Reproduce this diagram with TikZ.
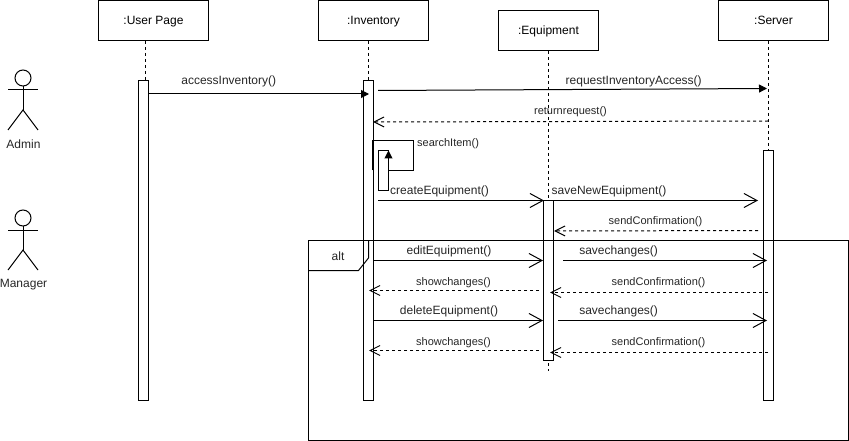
\documentclass[tikz,border=0pt]{standalone}
\usepackage{fontspec}
\setmainfont{Liberation Sans}
\usetikzlibrary{arrows.meta}

\tikzset{
	objbox/.style={draw, fill=white, line width=1pt, inner sep=0pt, text height=9pt, text depth=0pt, font=\fontsize{12}{14}\selectfont},
	actbar/.style={draw, fill=white, line width=1pt, inner sep=0pt, minimum width=10pt},
	lifeline/.style={line width=1pt, dash pattern=on 3pt off 3pt},
	callmsg/.style={line width=1pt, -{Straight Barb[length=13pt, width=14pt, line width=1pt]}},
	filledmsg/.style={line width=1pt, -{Triangle[length=8pt, width=8pt]}},
	replymsg/.style={line width=1pt, dash pattern=on 3pt off 3pt, -{Straight Barb[length=10pt, width=10pt, line width=1pt]}},
	biglabel/.style={inner sep=0pt, yshift=-1.5pt, text=black!85, font=\fontsize{12}{14}\selectfont},
	smalllabel/.style={inner sep=0pt, yshift=-1.5pt, text=black!85, font=\fontsize{11}{13}\selectfont},
}

\begin{document}
\begin{tikzpicture}[x=1pt, y=-1pt]
	\useasboundingbox (0,0) rectangle (849,441);

	% objects
	\node[objbox, minimum width=110pt, minimum height=40pt] (userbox) at (153.5,20.5) {:User Page};
	\node[objbox, minimum width=110pt, minimum height=40pt] (invbox) at (373.5,20.5) {:Inventory};
	\node[objbox, minimum width=100pt, minimum height=40pt] (equipbox) at (548.5,30.5) {:Equipment};
	\node[objbox, minimum width=110pt, minimum height=40pt] (servbox) at (773.5,20.5) {:Server};

	% lifelines
	\coordinate (usertop) at (145,41);
	\coordinate (userend) at (145,80);
	\coordinate (invtop) at (368.5,41);
	\coordinate (invend) at (368.5,80);
	\coordinate (equiptop) at (548.5,51);
	\coordinate (equipend) at (548.5,371);
	\coordinate (servtop) at (768.5,41);
	\coordinate (servend) at (768.5,150);
	\draw[lifeline] (usertop) -- (userend);
	\draw[lifeline] (invtop) -- (invend);
	\draw[lifeline] (equiptop) -- (equipend);
	\draw[lifeline] (servtop) -- (servend);

	% activation bars
	\node[actbar, minimum height=320pt] (userbar) at (143.5,240.5) {};
	\node[actbar, minimum height=320pt] (invbar) at (368.5,240.5) {};
	\node[actbar, minimum height=160pt] (equipbar) at (548.5,280.5) {};
	\node[actbar, minimum height=250pt] (servbar) at (768.5,275.5) {};
	\node[actbar, minimum height=40pt] (selfbar) at (383.5,170.5) {};

	% actors
	\foreach \name/\ypos/\who in {admin/0/Admin, manager/140/Manager}{
		\draw[line width=1pt] (23,78+\ypos) circle(8);
		\draw[line width=1pt] (23,86+\ypos) -- (23,110+\ypos);
		\draw[line width=1pt] (8,90+\ypos) -- (38,90+\ypos);
		\draw[line width=1pt] (8,130+\ypos) -- (23,110+\ypos) -- (38,130+\ypos);
		\node[biglabel] (\name) at (23.5,143+\ypos) {\who};
	}

	% alt frame
	\coordinate (altA) at (308.5,240.5);
	\coordinate (altB) at (848.5,440.5);
	\coordinate (tabA) at (308.5,270.5);
	\coordinate (tabB) at (358.5,270.5);
	\coordinate (tabC) at (368.5,258);
	\coordinate (tabD) at (368.5,240.5);
	\draw[line width=1pt] (altA) rectangle (altB);
	\draw[line width=1pt] (tabA) -- (tabB) -- (tabC) -- (tabD);
	\node[biglabel] (altlabel) at (338,255) {alt};

	% messages
	\coordinate (accessA) at (149,94);
	\coordinate (accessB) at (369,94);
	\draw[filledmsg] (accessA) -- (accessB);
	\node[biglabel] (accesslabel) at (228.7,80) {accessInventory()};

	\coordinate (requestA) at (378,90.5);
	\coordinate (requestB) at (767,88.5);
	\draw[filledmsg] (requestA) -- (requestB);
	\node[biglabel] (requestlabel) at (633.7,79.5) {requestInventoryAccess()};

	\coordinate (returnA) at (768,121);
	\coordinate (returnB) at (373,122);
	\draw[replymsg] (returnA) -- (returnB);
	\node[smalllabel] (returnlabel) at (570.5,110) {returnrequest()};

	\coordinate (searchA) at (372.5,170.5);
	\coordinate (searchB) at (372.5,140.5);
	\coordinate (searchC) at (413.5,140.5);
	\coordinate (searchD) at (413.5,171);
	\coordinate (searchE) at (388.5,171);
	\coordinate (searchF) at (388.5,150.5);
	\draw[line width=1pt] (searchA) -- (searchB) -- (searchC) -- (searchD) -- (searchE);
	\draw[filledmsg] (searchE) -- (searchF);
	\node[smalllabel, anchor=west] (searchlabel) at (417,142) {searchItem()};

	\coordinate (createA) at (378,200.5);
	\coordinate (createB) at (544,200.5);
	\draw[callmsg] (createA) -- (createB);
	\node[biglabel, anchor=west] (createlabel) at (390,189.5) {createEquipment()};

	\coordinate (saveA) at (553,200.5);
	\coordinate (saveB) at (758,200.5);
	\draw[callmsg] (saveA) -- (saveB);
	\node[biglabel, anchor=west] (savelabel) at (551.5,189.5) {saveNewEquipment()};

	\coordinate (confirmA) at (758,230.5);
	\coordinate (confirmB) at (554,231);
	\draw[replymsg] (confirmA) -- (confirmB);
	\node[smalllabel] (confirmlabel) at (655.5,220) {sendConfirmation()};

	\coordinate (editA) at (373,260.5);
	\coordinate (editB) at (543,260.5);
	\draw[callmsg] (editA) -- (editB);
	\node[biglabel] (editlabel) at (449,249.5) {editEquipment()};

	\coordinate (changeA) at (563,260.5);
	\coordinate (changeB) at (767,260.5);
	\draw[callmsg] (changeA) -- (changeB);
	\node[biglabel] (changelabel) at (618.6,249.5) {savechanges()};

	\coordinate (showA) at (539,290.5);
	\coordinate (showB) at (369,290.5);
	\draw[replymsg] (showA) -- (showB);
	\node[smalllabel] (showlabel) at (453.5,281) {showchanges()};

	\coordinate (confirmC) at (768,292.5);
	\coordinate (confirmD) at (550,292.5);
	\draw[replymsg] (confirmC) -- (confirmD);
	\node[smalllabel] (confirmlabelb) at (658.5,281) {sendConfirmation()};

	\coordinate (deleteA) at (373,320.5);
	\coordinate (deleteB) at (543,320.5);
	\draw[callmsg] (deleteA) -- (deleteB);
	\node[biglabel] (deletelabel) at (449,310) {deleteEquipment()};

	\coordinate (changeC) at (558,320.5);
	\coordinate (changeD) at (767,320.5);
	\draw[callmsg] (changeC) -- (changeD);
	\node[biglabel] (changelabelb) at (618.6,310) {savechanges()};

	\coordinate (showC) at (539,350.5);
	\coordinate (showD) at (369,350.5);
	\draw[replymsg] (showC) -- (showD);
	\node[smalllabel] (showlabelb) at (453.5,341) {showchanges()};

	\coordinate (confirmE) at (768,352.5);
	\coordinate (confirmF) at (550,352.5);
	\draw[replymsg] (confirmE) -- (confirmF);
	\node[smalllabel] (confirmlabelc) at (658.5,341) {sendConfirmation()};
\end{tikzpicture}
\end{document}
